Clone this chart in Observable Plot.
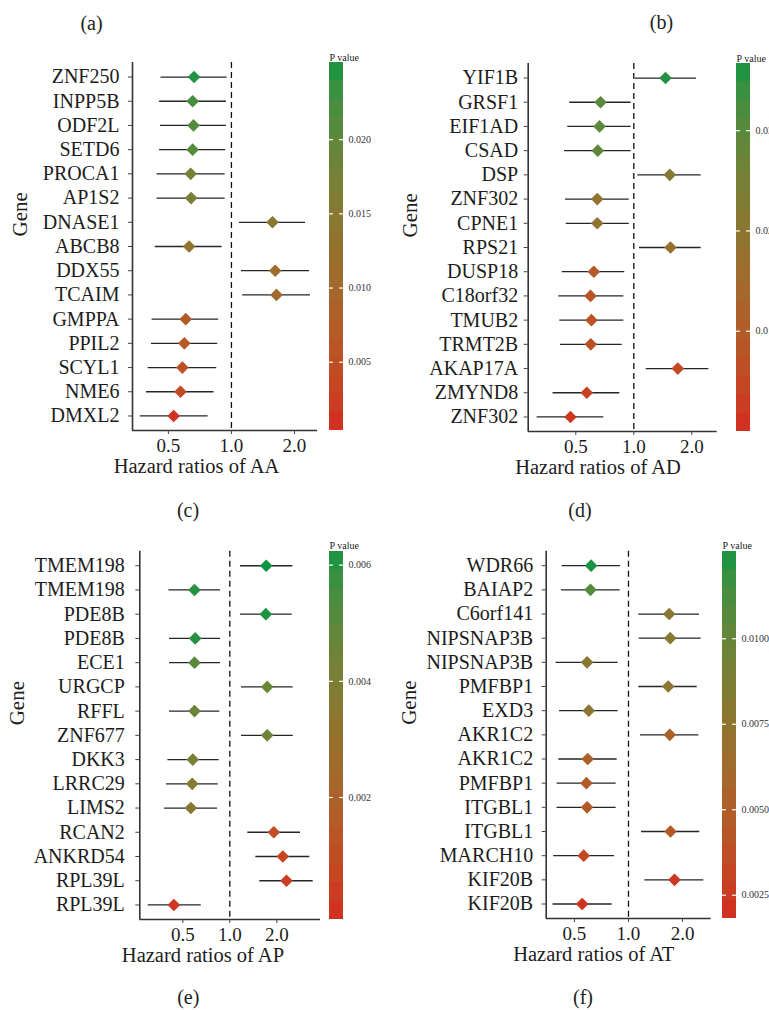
<!DOCTYPE html>
<html><head><meta charset="utf-8">
<script src="https://cdn.jsdelivr.net/npm/d3@7"></script>
<script src="https://cdn.jsdelivr.net/npm/@observablehq/plot@0.6"></script>
<style>
html,body{margin:0;padding:0;background:#fff;overflow:hidden;}
#root{position:relative;width:769px;height:1010px;font-family:"Liberation Serif",serif;overflow:hidden;}
#root svg{position:absolute;overflow:visible;font-family:"Liberation Serif",serif;}
.tag{position:absolute;font-size:20px;color:#222;transform:translate(-50%,-50%);font-family:"Liberation Serif",serif;white-space:nowrap;}
</style></head><body><div id="root"></div>
<script>
// ---------- Data ----------
// (a) Hazard ratios of AA
const genesAA = ["ZNF250","INPP5B","ODF2L","SETD6","PROCA1","AP1S2","DNASE1","ABCB8","DDX55","TCAIM","GMPPA","PPIL2","SCYL1","NME6","DMXL2"];
const hrAA = [0.663,0.653,0.659,0.653,0.639,0.642,1.570,0.628,1.618,1.641,0.605,0.596,0.583,0.571,0.530];
const loAA = [0.461,0.454,0.458,0.454,0.441,0.441,1.092,0.433,1.116,1.132,0.418,0.415,0.400,0.393,0.367];
const hiAA = [0.954,0.947,0.947,0.939,0.933,0.933,2.257,0.903,2.359,2.385,0.869,0.860,0.851,0.826,0.774];
const pAA  = [0.0245,0.0225,0.0215,0.0210,0.0170,0.0165,0.0145,0.0130,0.0110,0.0105,0.0070,0.0065,0.0050,0.0040,0.0010];
const pTicksAA = [0.005,0.010,0.015,0.020];

// (b) Hazard ratios of AD
const genesAD = ["YIF1B","GRSF1","EIF1AD","CSAD","DSP","ZNF302","CPNE1","RPS21","DUSP18","C18orf32","TMUB2","TRMT2B","AKAP17A","ZMYND8","ZNF302"];
const hrAD = [1.461,0.672,0.664,0.650,1.538,0.646,0.646,1.551,0.620,0.596,0.603,0.598,1.692,0.570,0.469];
const loAD = [1.020,0.465,0.454,0.437,1.049,0.442,0.446,1.070,0.425,0.408,0.413,0.416,1.160,0.381,0.315];
const hiAD = [2.116,0.969,0.969,0.969,2.238,0.947,0.947,2.238,0.898,0.888,0.888,0.871,2.451,0.846,0.699];
const pAD  = [0.0355,0.0300,0.0295,0.0290,0.0220,0.0190,0.0190,0.0180,0.0090,0.0080,0.0080,0.0075,0.0050,0.0040,0.0020];
const pTicksAD = [0.010,0.020,0.030];

// (e) Hazard ratios of AP
const genesAP = ["TMEM198","TMEM198","PDE8B","PDE8B","ECE1","URGCP","RFFL","ZNF677","DKK3","LRRC29","LIMS2","RCAN2","ANKRD54","RPL39L","RPL39L"];
const hrAP = [1.710,0.594,1.701,0.600,0.594,1.736,0.594,1.736,0.579,0.574,0.563,1.913,2.185,2.307,0.438];
const loAP = [1.171,0.407,1.171,0.411,0.411,1.188,0.411,1.188,0.401,0.393,0.382,1.304,1.467,1.556,0.300];
const hiAP = [2.532,0.872,2.510,0.872,0.872,2.548,0.863,2.548,0.855,0.843,0.834,2.837,3.254,3.420,0.656];
const pAP  = [0.0062,0.0060,0.0061,0.0060,0.0051,0.0047,0.0046,0.0045,0.0041,0.0037,0.0035,0.0010,0.0006,0.0004,0.0002];
const pTicksAP = [0.002,0.004,0.006];

// (f) Hazard ratios of AT
const genesAT = ["WDR66","BAIAP2","C6orf141","NIPSNAP3B","NIPSNAP3B","PMFBP1","EXD3","AKR1C2","AKR1C2","PMFBP1","ITGBL1","ITGBL1","MARCH10","KIF20B","KIF20B"];
const hrAT = [0.619,0.614,1.686,1.708,0.588,1.665,0.601,1.699,0.593,0.583,0.588,1.715,0.563,1.805,0.552];
const loAT = [0.427,0.423,1.141,1.147,0.395,1.141,0.413,1.167,0.409,0.400,0.400,1.182,0.383,1.233,0.380];
const hiAT = [0.903,0.899,2.488,2.542,0.876,2.415,0.876,2.466,0.865,0.854,0.854,2.497,0.836,2.629,0.811];
const pAT  = [0.0124,0.0108,0.0080,0.0079,0.0078,0.0077,0.0076,0.0055,0.0053,0.0048,0.0047,0.0045,0.0032,0.0024,0.0022];
const pTicksAT = [0.0025,0.0050,0.0075,0.0100];

const xTicks = [0.5, 1, 2];
const LOW = "#d32a20", HIGH = "#069444";
const FONT = "Liberation Serif";
const root = document.getElementById("root");

function place(el, left, top) {
  el.style.left = left + "px"; el.style.top = top + "px";
  root.appendChild(el);
}

function panel(o) {
  const n = o.genes.length;
  const rows = o.genes.map((g, i) => ({i, g, hr: o.hr[i], lo: o.lo[i], hi: o.hi[i], p: o.p[i]}));
  const color = {type: "linear", domain: o.pDomain, range: [LOW, HIGH], interpolate: "lab"};
  const main = Plot.plot({
    width: o.width, height: o.height,
    marginLeft: o.ml, marginRight: o.mr, marginTop: o.mt, marginBottom: o.mb,
    style: {fontFamily: FONT, background: "transparent", color: "#1c1c1c", overflow: "visible"},
    x: {type: "log", domain: o.xDomain},
    y: {domain: [n - 0.4, -0.6]},
    color,
    marks: [
      Plot.ruleX([1], {stroke: "#111", strokeWidth: 1.3, strokeDasharray: "6,4"}),
      Plot.ruleY(rows, {y: "i", x1: "lo", x2: "hi", stroke: "#262626", strokeWidth: 1.3}),
      Plot.dot(rows, {x: "hr", y: "i", fill: "p", symbol: "diamond2", r: 5.7}),
      Plot.ruleX([o.xDomain[0]], {stroke: "#333", strokeWidth: 1.6}),
      Plot.ruleY([n - 0.4], {stroke: "#333", strokeWidth: 1.6}),
      Plot.axisY({ticks: d3.range(n), tickFormat: i => o.genes[i], tickSize: 4, tickPadding: o.tp, fontSize: 20, fontFamily: FONT, label: null, stroke: "#444"}),
      Plot.axisX({ticks: xTicks, tickFormat: d3.format(".1f"), tickSize: 4, tickPadding: 4, fontSize: 19, fontFamily: FONT, label: null, stroke: "#444"}),
      Plot.text([o.title], {text: d => d, frameAnchor: "bottom", dy: 42, dx: o.titleDx, fontSize: 20.5, fontFamily: FONT, fill: "#1c1c1c"}),
      Plot.text(["Gene"], {text: d => d, frameAnchor: "left", dx: o.geneDx, dy: -10, rotate: -90, fontSize: 21, fontFamily: FONT, fill: "#1c1c1c"})
    ]
  });
  place(main, o.left, o.top);

  const [p0, p1] = o.pDomain;
  const bins = d3.range(20).map(k => ({y1: p0 + k * (p1 - p0) / 20, y2: p0 + (k + 1) * (p1 - p0) / 20}));
  const legend = Plot.plot({
    width: 60, height: o.height,
    marginLeft: 9, marginRight: 37, marginTop: o.mt, marginBottom: o.mb,
    style: {fontFamily: FONT, background: "transparent", overflow: "visible"},
    x: {domain: [0, 1], axis: null},
    y: {domain: o.pDomain, axis: null},
    color,
    marks: [
      Plot.rect(bins, {x1: 0, x2: 1, y1: "y1", y2: "y2", fill: d => (d.y1 + d.y2) / 2, shapeRendering: "crispEdges"}),
      Plot.ruleY(o.pTicks, {x1: 0, x2: 0.28, stroke: "white", strokeWidth: 1.2}),
      Plot.ruleY(o.pTicks, {x1: 0.72, x2: 1, stroke: "white", strokeWidth: 1.2}),
      Plot.text(o.pTicks, {x: 1, y: d => d, text: d3.format(o.pFmt), dx: 5, textAnchor: "start", fontSize: 10, fontFamily: FONT, fill: "#333"}),
      Plot.text(["P value"], {text: d => d, frameAnchor: "top-left", dy: -9, textAnchor: "start", fontSize: 10, fontFamily: FONT, fill: "#222"})
    ]
  });
  place(legend, o.legendLeft, o.top);
}

panel({genes: genesAA, hr: hrAA, lo: loAA, hi: hiAA, p: pAA, pTicks: pTicksAA, pFmt: ".3f",
  pDomain: [0.0004, 0.0252], xDomain: [0.337, 2.576], title: "Hazard ratios of AA",
  left: 0, top: 40, width: 325, height: 445, ml: 132, mr: 8, mt: 22, mb: 55, tp: 9,
  titleDx: -28.5, geneDx: -112.5, legendLeft: 320});

panel({genes: genesAD, hr: hrAD, lo: loAD, hi: hiAD, p: pAD, pTicks: pTicksAD, pFmt: ".3f",
  pDomain: [0.0, 0.0367], xDomain: [0.283, 2.710], title: "Hazard ratios of AD",
  left: 395, top: 40, width: 330, height: 445, ml: 132.7, mr: 8.3, mt: 23, mb: 54, tp: 6,
  titleDx: -24.7, geneDx: -117.7, legendLeft: 727});

panel({genes: genesAP, hr: hrAP, lo: loAP, hi: hiAP, p: pAP, pTicks: pTicksAP, pFmt: ".3f",
  pDomain: [-0.0001, 0.00624], xDomain: [0.265, 3.81], title: "Hazard ratios of AP",
  left: 0, top: 530, width: 330, height: 445, ml: 139.3, mr: 10, mt: 20.7, mb: 56, tp: 11,
  titleDx: -27.2, geneDx: -122.6, legendLeft: 320});

panel({genes: genesAT, hr: hrAT, lo: loAT, hi: hiAT, p: pAT, pTicks: pTicksAT, pFmt: ".4f",
  pDomain: [0.00182, 0.01256], xDomain: [0.348, 2.89], title: "Hazard ratios of AT",
  left: 395, top: 530, width: 318, height: 445, ml: 150.7, mr: 2.3, mt: 20.7, mb: 57, tp: 9,
  titleDx: -35, geneDx: -137, legendLeft: 713});

const tags = [["(a)", 91.5, 23], ["(b)", 661.5, 22], ["(c)", 188, 510], ["(d)", 580, 510], ["(e)", 188.3, 997], ["(f)", 583, 997]];
for (const [t, x, y] of tags) {
  const d = document.createElement("div");
  d.className = "tag"; d.textContent = t;
  place(d, x, y);
}
</script></body></html>
